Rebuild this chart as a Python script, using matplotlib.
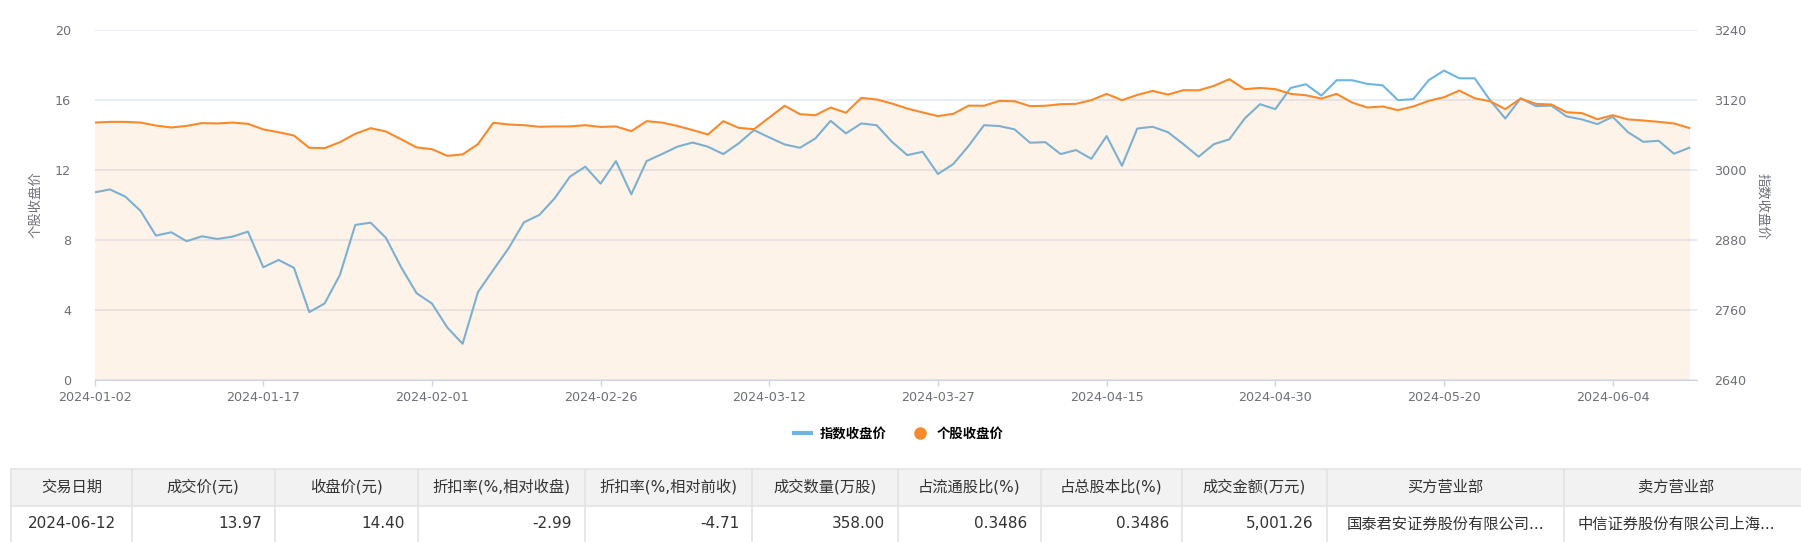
import numpy as np
import pandas as pd
import matplotlib
matplotlib.use("Agg")
import matplotlib.pyplot as plt
from matplotlib.lines import Line2D
from matplotlib.patches import Rectangle

plt.rcParams['font.family'] = ['DejaVu Sans', 'Noto Sans CJK SC']

# trading days (A-share calendar, Jan 2 - Jun 12 2024)
holidays = ['2024-02-09', '2024-02-12', '2024-02-13', '2024-02-14', '2024-02-15',
            '2024-02-16', '2024-04-04', '2024-04-05', '2024-05-01', '2024-05-02',
            '2024-05-03', '2024-06-10']
trade_days = [d.strftime('%Y-%m-%d') for d in pd.bdate_range('2024-01-02', '2024-06-12')
              if d.strftime('%Y-%m-%d') not in holidays]

# 指数收盘价 (right axis)
index_close = [2961.6, 2966.7, 2954.4, 2929.8, 2887.5, 2893.2, 2877.9, 2886.3, 2881.8, 2885.7,
               2894.4, 2833.2, 2845.8, 2832.3, 2756.4, 2771.1, 2820.3, 2905.8, 2909.7, 2883.6,
               2832.9, 2788.8, 2771.1, 2730.0, 2702.1, 2790.6, 2828.7, 2865.9, 2910.3, 2922.9,
               2951.4, 2988.6, 3005.7, 2976.6, 3015.3, 2958.3, 3015.3, 3027.3, 3039.9, 3047.1,
               3039.9, 3027.3, 3045.6, 3068.4, 3055.8, 3043.8, 3038.1, 3054.0, 3084.3, 3062.7,
               3079.8, 3076.8, 3048.3, 3025.5, 3031.2, 2993.1, 3010.2, 3041.4, 3076.8, 3075.3,
               3069.6, 3046.8, 3047.7, 3027.3, 3034.2, 3019.2, 3058.2, 3007.2, 3071.1, 3074.1,
               3064.8, 3044.4, 3022.8, 3044.4, 3052.5, 3088.2, 3112.8, 3104.4, 3140.7, 3147.0,
               3127.5, 3153.9, 3153.9, 3147.6, 3145.2, 3119.7, 3121.5, 3153.9, 3170.4, 3157.2,
               3157.2, 3119.7, 3088.2, 3123.0, 3109.5, 3110.4, 3091.8, 3086.7, 3078.6, 3091.2,
               3064.8, 3048.3, 3050.1, 3027.9, 3038.1]

# 个股收盘价 (left axis)
stock_close = [14.71, 14.75, 14.75, 14.71, 14.54, 14.43, 14.52, 14.68, 14.66, 14.71,
               14.64, 14.32, 14.16, 13.97, 13.27, 13.25, 13.59, 14.07, 14.39, 14.20,
               13.75, 13.29, 13.19, 12.81, 12.89, 13.48, 14.70, 14.60, 14.56, 14.47,
               14.49, 14.49, 14.56, 14.46, 14.49, 14.22, 14.79, 14.71, 14.52, 14.28,
               14.03, 14.79, 14.41, 14.33, 15.00, 15.67, 15.19, 15.13, 15.57, 15.27,
               16.12, 16.03, 15.80, 15.51, 15.29, 15.08, 15.21, 15.68, 15.67, 15.95,
               15.93, 15.65, 15.67, 15.76, 15.78, 15.99, 16.35, 15.99, 16.29, 16.52,
               16.31, 16.56, 16.55, 16.81, 17.19, 16.62, 16.69, 16.62, 16.35, 16.27,
               16.08, 16.35, 15.86, 15.57, 15.63, 15.42, 15.63, 15.95, 16.16, 16.54,
               16.10, 15.93, 15.48, 16.08, 15.78, 15.74, 15.30, 15.25, 14.90, 15.13,
               14.89, 14.83, 14.75, 14.66, 14.40]

table_header = ['交易日期', '成交价(元)', '收盘价(元)', '折扣率(%,相对收盘)', '折扣率(%,相对前收)',
                '成交数量(万股)', '占流通股比(%)', '占总股本比(%)', '成交金额(万元)', '买方营业部', '卖方营业部']
table_row = ['2024-06-12', '13.97', '14.40', '-2.99', '-4.71', '358.00', '0.3486', '0.3486',
             '5,001.26', '国泰君安证券股份有限公司...', '中信证券股份有限公司上海...']
row_align = ['center', 'right', 'right', 'right', 'right', 'right', 'right', 'right', 'right',
             'center', 'center']

BLUE = '#6FB5E3'
ORANGE = '#F98A2B'
GREY = '#6E7079'

W, H = 1801, 542
fx = lambda px: px / W
fy = lambda py: 1 - py / H

fig = plt.figure(figsize=(W / 100, H / 100), dpi=100)
ax = fig.add_axes([fx(94.6), fy(380), (1697 - 94.6) / W, 350 / H])
ax2 = ax.twinx()
ax.set_zorder(2)
ax2.set_zorder(1)
ax.patch.set_visible(False)

x = np.arange(len(trade_days))

# right axis: grid + index line
ax2.plot(x, index_close, color=BLUE, lw=1.5, zorder=3)
ax2.set_ylim(2640, 3240)
ax2.set_yticks(np.arange(2640, 3241, 120))
ax2.grid(axis='y', color='#E0E6F1', lw=1.1)
ax2.set_axisbelow(True)

# left axis: area + stock line
ax.fill_between(x, stock_close, 0, color=ORANGE, alpha=0.1, lw=0)
ax.plot(x, stock_close, color=ORANGE, lw=1.5, zorder=4)
ax.set_ylim(0, 20)
ax.set_yticks(np.arange(0, 21, 4))
ax.set_xlim(0, 104.5)
ax.set_xticks(x[::11])
ax.set_xticklabels(trade_days[::11])

for a in (ax, ax2):
    for s in a.spines.values():
        s.set_visible(False)
ax.spines['bottom'].set_visible(True)
ax.spines['bottom'].set_color('#CCD6EB')

ax.tick_params(axis='x', colors='#CCD6EB', length=4, width=1, pad=4, labelcolor=GREY, labelsize=9.2)
ax.tick_params(axis='y', length=0, pad=17, labelcolor=GREY, labelsize=9.2)
ax2.tick_params(axis='y', length=0, pad=12, labelcolor=GREY, labelsize=9.2)

fig.text(fx(36), fy(205), '个股收盘价', rotation=90, ha='center', va='center', color=GREY, fontsize=9.6)
fig.text(fx(1763), fy(206), '指数收盘价', rotation=270, ha='center', va='center', color=GREY, fontsize=9.6)

# legend
handles = [Line2D([], [], color=BLUE, lw=3),
           Line2D([], [], color=ORANGE, lw=0, marker='o', markersize=8)]
fig.legend(handles, ['指数收盘价', '个股收盘价'], loc='center', bbox_to_anchor=(fx(899), fy(434)),
           ncol=2, frameon=False, handlelength=1.3, handletextpad=0.6, columnspacing=1.9,
           prop={'family': ['DejaVu Sans', 'Noto Sans CJK SC'], 'weight': 'bold', 'size': 9.6})

# table
edges = [11, 132, 274.5, 418, 584.6, 752, 898, 1040.6, 1182, 1326.6, 1564, 1788]
top, mid, bot = 469, 505.5, 542
line_c = '#E3E3E3'
fig.add_artist(Rectangle((fx(11), fy(mid)), (W - 11) / W, (mid - top) / H,
                         facecolor='#F2F2F2', edgecolor='none', transform=fig.transFigure))
for yy in (top, mid):
    fig.add_artist(Line2D([fx(11), 1], [fy(yy), fy(yy)], color=line_c, lw=1.2, transform=fig.transFigure))
for xx in edges[:-1]:
    fig.add_artist(Line2D([fx(xx), fx(xx)], [fy(top), fy(bot)], color=line_c, lw=1.2, transform=fig.transFigure))

for i, (hd, val, al) in enumerate(zip(table_header, table_row, row_align)):
    l, r = edges[i], edges[i + 1]
    fig.text(fx((l + r) / 2), fy(487), hd, ha='center', va='center', color='#333333', fontsize=11)
    if al == 'right':
        fig.text(fx(r - 13), fy(524), val, ha='right', va='center', color='#333333', fontsize=11)
    else:
        fig.text(fx((l + r) / 2), fy(524), val, ha='center', va='center', color='#333333', fontsize=11)

fig.savefig('out.png', dpi=100, facecolor='white')
